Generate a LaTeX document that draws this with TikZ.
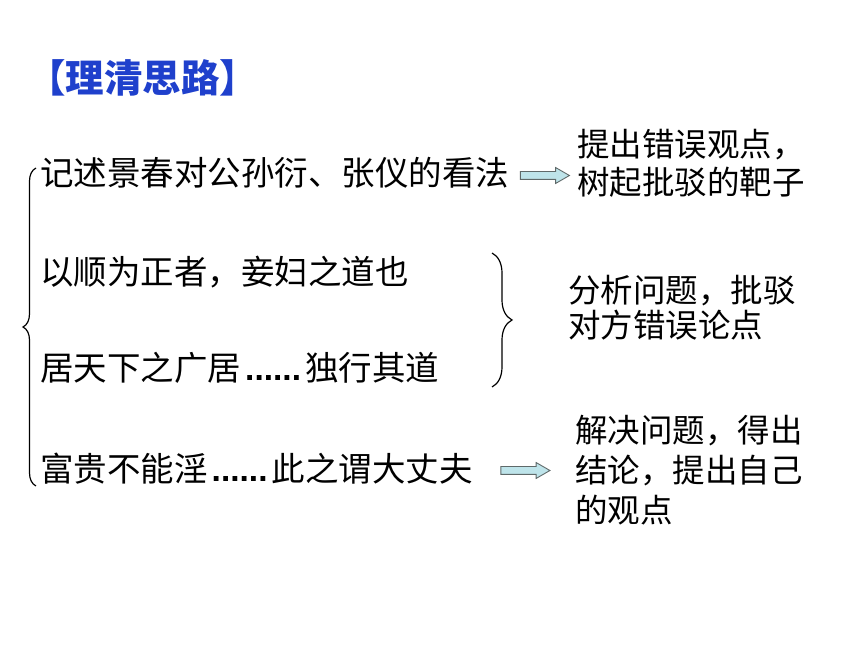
\documentclass[tikz,border=0pt]{standalone}
\usepackage{fontspec}
\setmainfont{Liberation Sans}
\newfontfamily\cjk{Noto Sans CJK SC}
\usetikzlibrary{math,shapes.arrows,decorations.pathreplacing}
\definecolor{titleblue}{RGB}{31,64,204}
\definecolor{arrowfill}{RGB}{190,228,234}
\definecolor{arrowline}{RGB}{95,105,105}
\newcommand\boldellip{{\rmfamily\bfseries\kern4pt......\kern4pt}}

\begin{document}
\begin{tikzpicture}[x=1pt,y=1pt,
  lefttext/.style={anchor=west,inner sep=0pt,font=\cjk\fontsize{33.5}{40}\selectfont},
  note/.style={anchor=west,inner sep=0pt,align=left,font=\cjk\fontsize{32.5}{#1}\selectfont},
  blockarrow/.style={single arrow,draw=arrowline,fill=arrowfill,line width=0.9pt,
    minimum height=49pt,inner sep=3.5pt,single arrow head extend=4pt,
    single arrow tip angle=60},
  bracepath/.style={decorate,decoration={brace,amplitude=#1},line width=1.2pt}]
  \tikzmath{%
    \H = 645;
    \lx = 40; \rx = 575;
  }
  \useasboundingbox (0,0) rectangle (860,\H);

  % title
  \node[anchor=west,inner sep=0pt,text=titleblue,
        font=\cjk\bfseries\fontsize{38.5}{40}\selectfont] (title) at (27,\H-78) {【理清思路】};

  % left column
  \node[lefttext] (l1) at (\lx,\H-173) {记述景春对公孙衍、张仪的看法};
  \node[lefttext] (l2) at (\lx,\H-272) {以顺为正者，妾妇之道也};
  \node[lefttext] (l3) at (\lx,\H-368) {居天下之广居\boldellip 独行其道};
  \node[lefttext] (l4) at (\lx,\H-469) {富贵不能淫\boldellip 此之谓大丈夫};

  % right column
  \node[note=38] (r1) at (\rx+2,\H-163.5) {提出错误观点，\\树起批驳的靶子};
  \node[note=35] (r2) at (\rx-7,\H-307.5) {分析问题，批驳\\对方错误论点};
  \node[note=40] (r3) at (\rx,\H-470) {解决问题，得出\\结论，提出自己\\的观点};

  % arrows
  \node[blockarrow] (a1) at (541.5,\H-175.5) {};
  \node[blockarrow] (a2) at (522,\H-470.5) {};

  % braces
  \draw[bracepath=13] (36,\H-486) -- (36,\H-168);
  \draw[bracepath=20] (492,\H-253) -- (492,\H-387);
\end{tikzpicture}
\end{document}
